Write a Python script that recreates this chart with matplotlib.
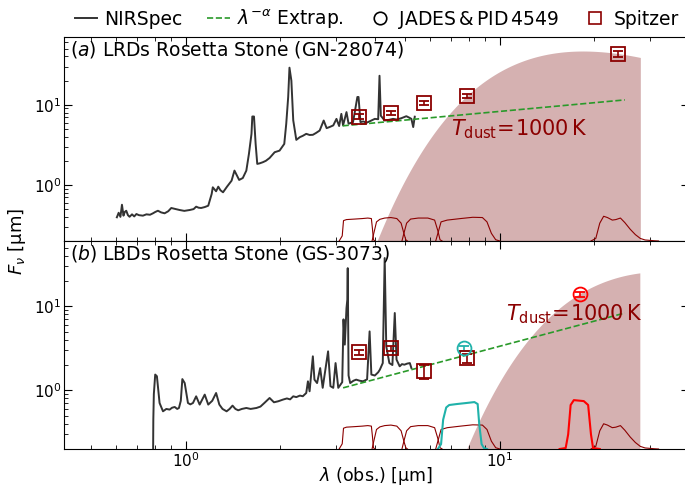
import numpy as np
import matplotlib.pyplot as plt
from matplotlib.lines import Line2D

# Espectro NIRSpec do GN-28074 (LRD), lambda em micron
lam_a = [0.604, 0.612, 0.620, 0.627, 0.634, 0.640, 0.647, 0.655, 0.663, 0.675,
         0.686, 0.697, 0.710, 0.731, 0.750, 0.770, 0.787, 0.800, 0.816, 0.835,
         0.857, 0.880, 0.900, 0.930, 0.957, 0.990, 1.03, 1.06, 1.08, 1.10,
         1.12, 1.15, 1.18, 1.21, 1.22, 1.25, 1.27, 1.29, 1.315, 1.354,
         1.40, 1.43, 1.48, 1.52, 1.56, 1.59, 1.62, 1.63, 1.65, 1.67,
         1.69, 1.72, 1.76, 1.80, 1.85, 1.92, 1.99, 2.06, 2.09, 2.12,
         2.14, 2.17, 2.20, 2.25, 2.31, 2.36, 2.42, 2.48, 2.54, 2.60,
         2.67, 2.75, 2.81, 2.88, 2.95, 3.02, 3.08, 3.13, 3.17, 3.25,
         3.30, 3.41, 3.52, 3.55, 3.60, 3.68, 3.76, 3.88, 4.00, 4.10,
         4.14, 4.18, 4.30, 4.45, 4.57, 4.70, 4.86, 5.04, 5.15, 5.23,
         5.30, 5.36]
f_a = [0.395, 0.45, 0.40, 0.567, 0.414, 0.46, 0.477, 0.42, 0.401, 0.43,
       0.405, 0.434, 0.42, 0.414, 0.43, 0.425, 0.443, 0.46, 0.477, 0.455,
       0.443, 0.47, 0.516, 0.50, 0.487, 0.475, 0.487, 0.50, 0.536, 0.52,
       0.516, 0.53, 0.551, 0.772, 0.935, 0.834, 0.952, 0.86, 0.81, 0.952,
       1.13, 1.51, 1.155, 1.22, 1.51, 2.44, 4.34, 7.14, 7.14, 3.25,
       1.83, 1.86, 1.92, 2.0, 2.17, 2.56, 2.68, 3.25, 5.8, 12.5,
       29.0, 20.0, 6.4, 3.65, 3.95, 4.1, 4.34, 4.2, 4.22, 4.45,
       4.77, 6.36, 5.11, 5.3, 5.53, 6.67, 5.43, 7.7, 5.53, 8.1,
       5.8, 6.08, 12.5, 12.5, 6.08, 6.2, 5.95, 6.3, 6.67, 6.6,
       23.0, 7.3, 6.36, 6.5, 6.67, 6.55, 6.8, 7.2, 6.9, 6.67,
       5.27, 7.1]

# Espectro NIRSpec do GS-3073 (LBD)
lam_b = [0.787, 0.789, 0.792, 0.80, 0.81, 0.826, 0.847, 0.868, 0.889, 0.905,
         0.923, 0.940, 0.952, 0.965, 0.976, 0.993, 1.017, 1.035, 1.055, 1.08,
         1.108, 1.15, 1.18, 1.215, 1.25, 1.28, 1.31, 1.35, 1.38, 1.41,
         1.44, 1.47, 1.51, 1.56, 1.61, 1.68, 1.73, 1.78, 1.85, 1.91,
         1.97, 2.04, 2.10, 2.15, 2.20, 2.25, 2.31, 2.36, 2.42, 2.45,
         2.48, 2.54, 2.57, 2.62, 2.68, 2.73, 2.84, 2.89, 2.95, 3.0,
         3.06, 3.15, 3.18, 3.21, 3.25, 3.27, 3.28, 3.30, 3.34, 3.42,
         3.49, 3.58, 3.67, 3.78, 3.85, 3.90, 4.0, 4.1, 4.15, 4.24,
         4.30, 4.35, 4.45, 4.55, 4.63, 4.69, 4.80, 4.88, 4.97, 5.07,
         5.17, 5.23]
f_b = [0.1, 0.45, 0.9, 1.54, 1.47, 0.706, 0.562, 0.60, 0.589, 0.62,
       0.633, 0.60, 0.616, 0.75, 1.36, 1.22, 0.706, 0.68, 0.706, 0.848,
       0.676, 0.889, 0.676, 0.75, 0.929, 0.676, 0.60, 0.562, 0.60, 0.657,
       0.60, 0.578, 0.60, 0.616, 0.60, 0.616, 0.64, 0.706, 0.81, 0.72,
       0.74, 0.775, 0.80, 0.78, 0.848, 0.83, 0.865, 0.85, 0.929, 1.28,
       0.973, 2.54, 1.34, 1.22, 1.84, 1.07, 2.91, 1.12, 1.07, 2.11,
       1.07, 1.25, 7.0, 3.5, 9.5, 12.0, 28.5, 1.5, 1.22, 1.30,
       1.34, 1.30, 1.28, 1.35, 5.03, 1.54, 1.50, 1.64, 1.76, 2.11,
       37.6, 3.34, 2.11, 2.0, 8.33, 2.32, 1.93, 2.05, 2.02, 2.08,
       2.11, 1.84]

# Extrapolacao lei de potencia (extremos)
ext_lam_a = [3.16, 25.0]
ext_f_a = [5.46, 11.5]
ext_lam_b = [3.17, 25.0]
ext_f_b = [1.07, 8.33]

# Fotometria Spitzer (IRAC + MIPS)
spz_lam_a = [3.55, 4.49, 5.73, 7.87, 23.7]
spz_f_a = [7.1, 7.9, 10.6, 12.9, 43.0]
spz_e_a = [0.5, 0.5, 0.7, 0.9, 3.5]
spz_lam_b = [3.55, 4.49, 5.73, 7.87]
spz_f_b = [2.83, 3.16, 1.68, 2.4]
spz_e_b = [0.2, 0.25, 0.3, 0.3]

# Fotometria MIRI (JADES & PID 4549)
miri_lam = [7.7, 18.0]
miri_f = [3.16, 13.9]
miri_e = [0.25, 1.1]
miri_cor = ['lightseagreen', 'red']

# Corpo negro da poeira
T_dust = 1000.0
bb_z = [2.6, 5.55]
bb_f28 = [38.9, 24.7]

# Curvas de transmissao dos filtros
irac1 = ([3.08, 3.15, 3.18, 3.25, 3.45, 3.65, 3.80, 3.90, 3.93, 3.96, 4.00],
         [0.0, 0.2, 0.8, 0.84, 0.86, 0.88, 0.9, 0.88, 0.5, 0.05, 0.0])
irac2 = ([3.92, 3.97, 4.05, 4.15, 4.3, 4.5, 4.7, 4.85, 4.95, 5.02, 5.08],
         [0.0, 0.3, 0.75, 0.85, 0.9, 0.92, 0.88, 0.7, 0.3, 0.05, 0.0])
irac3 = ([4.88, 4.95, 5.05, 5.2, 5.5, 5.9, 6.2, 6.35, 6.45, 6.55],
         [0.0, 0.3, 0.7, 0.86, 0.9, 0.9, 0.82, 0.4, 0.05, 0.0])
irac4 = ([6.25, 6.35, 6.5, 6.8, 7.5, 8.2, 8.8, 9.1, 9.4, 9.7, 10.0],
         [0.0, 0.3, 0.75, 0.82, 0.88, 0.93, 0.92, 0.75, 0.3, 0.05, 0.0])
mips24 = ([19.5, 20.2, 20.8, 21.4, 22.0, 22.8, 23.4, 24.2, 25.0, 26.0, 27.0,
           28.0, 29.0, 31.0, 32.0],
          [0.0, 0.1, 0.7, 0.97, 0.92, 0.82, 0.84, 0.9, 0.72, 0.46, 0.25,
           0.1, 0.04, 0.01, 0.0])
f770w = ([6.35, 6.5, 6.6, 6.75, 6.9, 7.3, 7.8, 8.3, 8.5, 8.6, 8.75, 8.9, 9.1],
         [0.0, 0.1, 0.6, 0.85, 0.9, 0.92, 0.94, 0.96, 0.92, 0.5, 0.1, 0.02, 0.0])
f1800w = ([15.5, 16.2, 16.5, 16.8, 17.2, 18.5, 19.1, 19.5, 19.8, 20.8],
          [0.0, 0.02, 0.3, 0.9, 1.0, 0.98, 0.9, 0.3, 0.02, 0.0])

cor_spec = '#333333'
cor_ext = '#2a9a2a'
cor_bb = '#d5b1b1'


def corpo_negro(lam, z, f28):
    x = 14387.77 * (1 + z) / (lam * T_dust)
    forma = x**3 / np.expm1(x)
    x28 = 14387.77 * (1 + z) / (28.0 * T_dust)
    return f28 * forma / (x28**3 / np.expm1(x28))


def filtro(ax, curva, cor, altura, lw):
    trans = ax.get_xaxis_transform()
    ax.plot(curva[0], np.array(curva[1]) * altura, color=cor, lw=lw,
            transform=trans, zorder=2)


fig = plt.figure(figsize=(6.85, 4.88), dpi=100)
ax_a = fig.add_axes([64/685, 1 - 241/488, 625/685, 204/488])
ax_b = fig.add_axes([64/685, 1 - 449/488, 625/685, 208/488], sharex=ax_a)

lam_bb = np.logspace(np.log10(3.0), np.log10(28.0), 400)

paineis = [
    (ax_a, lam_a, f_a, ext_lam_a, ext_f_a, spz_lam_a, spz_f_a, spz_e_a,
     r'($\it{a}$) LRDs Rosetta Stone (GN-28074)', (0.2, 70), (7.0, 5.0)),
    (ax_b, lam_b, f_b, ext_lam_b, ext_f_b, spz_lam_b, spz_f_b, spz_e_b,
     r'($\it{b}$) LBDs Rosetta Stone (GS-3073)', (0.2, 60), (10.5, 8.0)),
]

for i, (ax, lam, f, elam, ef, slam, sf, se, titulo, ylim, tpos) in enumerate(paineis):
    ax.fill_between(lam_bb, 1e-3, corpo_negro(lam_bb, bb_z[i], bb_f28[i]),
                    color=cor_bb, lw=0, zorder=0)
    for c in (irac1, irac2, irac3, irac4, mips24):
        filtro(ax, c, 'darkred', 0.125, 0.8)
    ax.plot(lam, f, color=cor_spec, lw=1.4, zorder=3)
    ax.plot(elam, ef, color=cor_ext, lw=1.2, ls='--', zorder=4)
    ax.errorbar(slam, sf, yerr=se, fmt='s', ms=10, mfc='none', mec='darkred',
                mew=1.3, ecolor='darkred', elinewidth=1.2, capsize=3.5, zorder=5)
    ax.text(tpos[0], tpos[1], r'$T_\mathrm{dust}\!=\!1000\,\mathrm{K}$',
            color='darkred', fontsize=15, ha='left', va='center', zorder=6)
    ax.text(0.01, 0.94, titulo, transform=ax.transAxes, fontsize=13.5,
            ha='left', va='center')
    ax.set_xscale('log')
    ax.set_yscale('log')
    ax.set_ylim(*ylim)
    ax.tick_params(which='both', direction='in', top=True, right=True,
                   labelsize=11, pad=2)
    ax.tick_params(which='major', length=6)
    ax.tick_params(which='minor', length=3)

# filtros MIRI no painel de baixo
filtro(ax_b, f770w, miri_cor[0], 0.235, 1.5)
filtro(ax_b, f1800w, miri_cor[1], 0.235, 1.5)
for j in range(len(miri_lam)):
    ax_b.errorbar(miri_lam[j], miri_f[j], yerr=miri_e[j], fmt='o', ms=10,
                  mfc='none', mec=miri_cor[j], mew=1.3, ecolor=miri_cor[j],
                  elinewidth=1.2, capsize=3.5, zorder=5)

ax_a.set_xlim(0.41, 40)
ax_a.tick_params(labelbottom=False)
ax_b.set_xlabel(r'$\lambda$ (obs.) [μm]', fontsize=12.5, labelpad=-4)
fig.text(0.025, 1 - 241/488, r'$F_\nu$ [μm]', rotation=90, fontsize=13,
         ha='center', va='center')

handles = [
    Line2D([], [], color=cor_spec, lw=1.4),
    Line2D([], [], color=cor_ext, lw=1.2, ls='--'),
    Line2D([], [], ls='none', marker='o', ms=9, mfc='none', mec='k', mew=1.2),
    Line2D([], [], ls='none', marker='s', ms=9, mfc='none', mec='darkred', mew=1.2),
]
labels = ['NIRSpec', r'$\lambda^{-\alpha}$ Extrap.', 'JADES$\,$&$\,$PID$\,$4549', 'Spitzer']
fig.legend(handles, labels, loc='center', bbox_to_anchor=(0.55, 1 - 19/488),
           ncol=4, frameon=False, fontsize=13.5, handlelength=1.2,
           handletextpad=0.4, columnspacing=1.3, borderpad=0)

fig.savefig('out.png', dpi=100)
